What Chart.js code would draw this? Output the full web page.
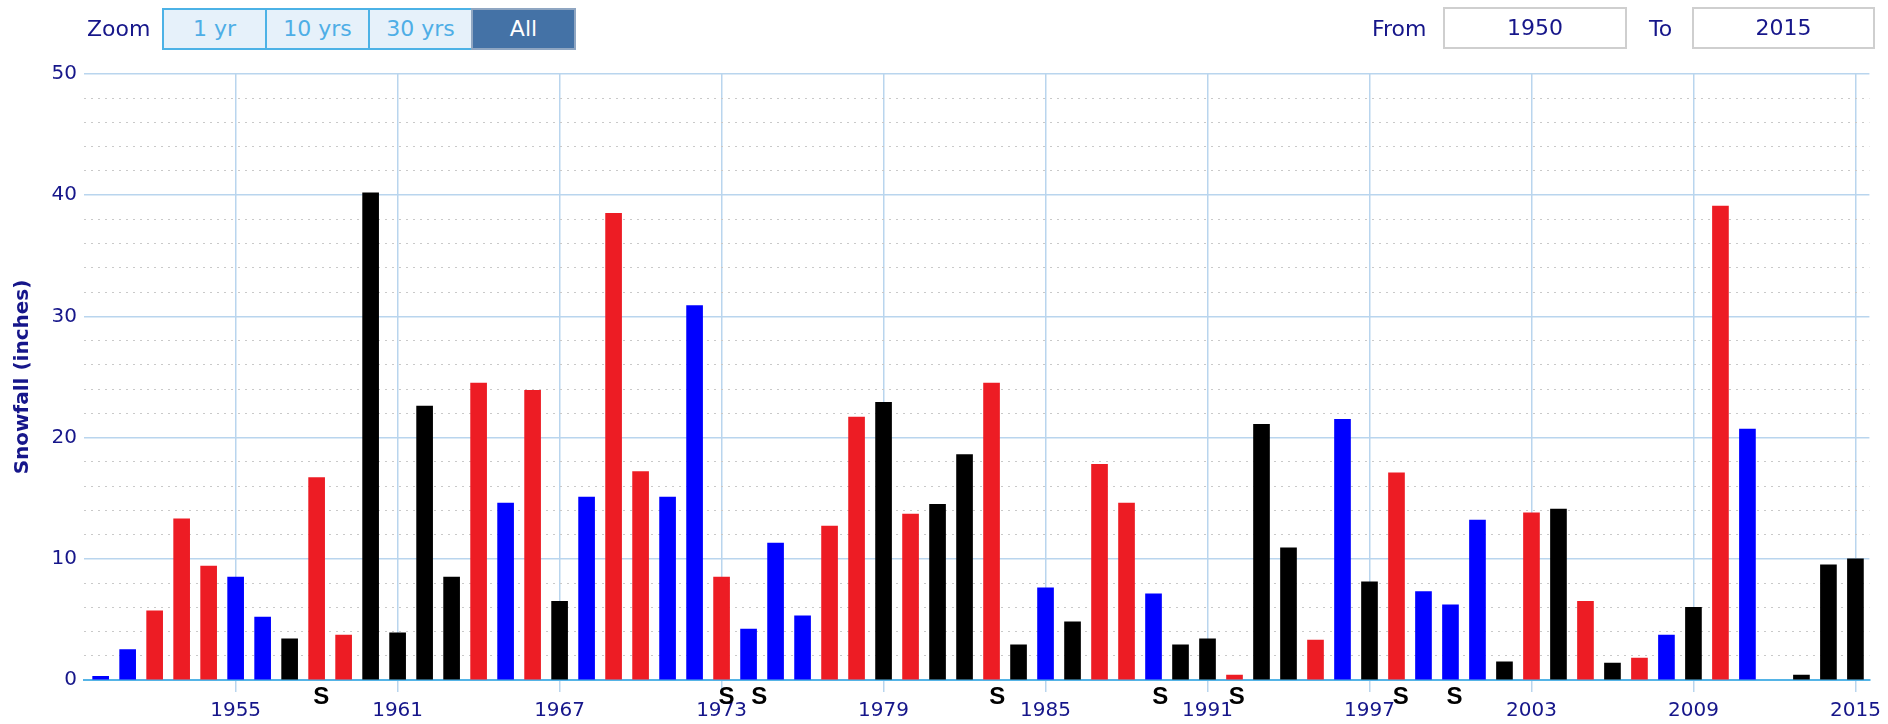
<!DOCTYPE html>
<html>
<head>
<meta charset="utf-8">
<script src="https://cdn.jsdelivr.net/npm/chart.js@4"></script>
<style>
  body { margin: 0; background: #fff; font-family: "DejaVu Sans", sans-serif; }
  #wrap { position: relative; width: 1888px; height: 724px; }
  #myChart { position: absolute; left: 0; top: 0; }
  .lbl { position: absolute; top: 8px; height: 42px; line-height: 42px; font-size: 22px; color: #16168a; }
  .btns { position: absolute; left: 162px; top: 8px; height: 42px; display: flex; }
  .btn { width: 105px; height: 42px; box-sizing: border-box; border: 2px solid #4cb2e6; margin-left: -2px;
         background: #e6f1fa; color: #4eaee6; font-size: 22px; line-height: 38px; text-align: center; }
  .btn:first-child { margin-left: 0; }
  .btn.on { background: #4472a6; color: #fff; border-color: #8fa6c2; }
  .box { position: absolute; top: 7px; height: 42px; box-sizing: border-box; border: 2px solid #cfcfcf;
         font-size: 22px; line-height: 38px; text-align: center; color: #16168a; }
</style>
</head>
<body>
<div id="wrap">
  <canvas id="myChart" width="1888" height="724"></canvas>
  <div class="lbl" style="left:87px">Zoom</div>
  <div class="btns">
    <div class="btn">1 yr</div>
    <div class="btn">10 yrs</div>
    <div class="btn">30 yrs</div>
    <div class="btn on">All</div>
  </div>
  <div class="lbl" style="left:1372px">From</div>
  <div class="box" style="left:1443px;width:184px">1950</div>
  <div class="lbl" style="left:1649px">To</div>
  <div class="box" style="left:1692px;width:183px">2015</div>
</div>
<script>
// winter seasons (year the season starts)
const years = [
  1950, 1951, 1952, 1953, 1954, 1955, 1956, 1957, 1958, 1959,
  1960, 1961, 1962, 1963, 1964, 1965, 1966, 1967, 1968, 1969,
  1970, 1971, 1972, 1973, 1974, 1975, 1976, 1977, 1978, 1979,
  1980, 1981, 1982, 1983, 1984, 1985, 1986, 1987, 1988, 1989,
  1990, 1991, 1992, 1993, 1994, 1995, 1996, 1997, 1998, 1999,
  2000, 2001, 2002, 2003, 2004, 2005, 2006, 2007, 2008, 2009,
  2010, 2011, 2012, 2013, 2014, 2015
];

// snowfall in inches (2012 has no bar)
const snowfall = [
  0.3, 2.5, 5.7, 13.3, 9.4, 8.5, 5.2, 3.4, 16.7, 3.7,
  40.2, 3.9, 22.6, 8.5, 24.5, 14.6, 23.9, 6.5, 15.1, 38.5,
  17.2, 15.1, 30.9, 8.5, 4.2, 11.3, 5.3, 12.7, 21.7, 22.9,
  13.7, 14.5, 18.6, 24.5, 2.9, 7.6, 4.8, 17.8, 14.6, 7.1,
  2.9, 3.4, 0.4, 21.1, 10.9, 3.3, 21.5, 8.1, 17.1, 7.3,
  6.2, 13.2, 1.5, 13.8, 14.1, 6.5, 1.4, 1.8, 3.7, 6.0,
  39.1, 20.7, null, 0.4, 9.5, 10.0
];

// ENSO phase of each winter
const phase = [
  'nina', 'nina', 'nino', 'nino', 'nino', 'nina', 'nina', 'neutral', 'nino', 'nino',
  'neutral', 'neutral', 'neutral', 'neutral', 'nino', 'nina', 'nino', 'neutral', 'nina', 'nino',
  'nino', 'nina', 'nina', 'nino', 'nina', 'nina', 'nina', 'nino', 'nino', 'neutral',
  'nino', 'neutral', 'neutral', 'nino', 'neutral', 'nina', 'neutral', 'nino', 'nino', 'nina',
  'neutral', 'neutral', 'nino', 'neutral', 'neutral', 'nino', 'nina', 'neutral', 'nino', 'nina',
  'nina', 'nina', 'neutral', 'nino', 'neutral', 'nino', 'neutral', 'nino', 'nina', 'neutral',
  'nino', 'nina', 'neutral', 'neutral', 'neutral', 'neutral'
];

// storm flags ("S") - dates as decimal years
const stormDates = [1958.17, 1973.18, 1974.40, 1983.21, 1989.25, 1992.08, 1998.16, 2000.15];

// labelled x ticks
const tickYears = [1955, 1961, 1967, 1973, 1979, 1985, 1991, 1997, 2003, 2009, 2015];

const phaseColors = { nino: '#ed1c24', nina: '#0000ff', neutral: '#000000' };
const navy = '#16168a';
const gridBlue = '#b9d5ee';

// draws the S flags under the axis
const stormFlags = {
  id: 'stormFlags',
  afterDraw(chart) {
    const ctx = chart.ctx;
    const xs = chart.scales.x;
    ctx.save();
    ctx.font = 'bold 24px "Liberation Sans", Arial, sans-serif';
    ctx.fillStyle = '#000';
    ctx.textAlign = 'center';
    ctx.textBaseline = 'middle';
    stormDates.forEach(d => {
      ctx.fillText('S', xs.getPixelForValue(d), chart.chartArea.bottom + 17);
    });
    ctx.restore();
  }
};

const chartData = {
  datasets: [{
    label: 'Snowfall',
    data: years.map((yr, i) => ({ x: yr, y: snowfall[i] })),
    backgroundColor: phase.map(p => phaseColors[p]),
    borderWidth: 0,
    barThickness: 16
  }]
};

const config = {
  type: 'bar',
  data: chartData,
  plugins: [stormFlags],
  options: {
    responsive: false,
    animation: false,
    devicePixelRatio: 1,
    layout: { padding: { top: 74, right: 15, left: 0, bottom: 0 } },
    plugins: { legend: { display: false }, tooltip: { enabled: false } },
    scales: {
      x: {
        type: 'linear',
        offset: false,
        min: 1949.383,
        max: 2015.518,
        afterFit: scale => { scale.height = 44; },
        afterBuildTicks: scale => { scale.ticks = tickYears.map(v => ({ value: v })); },
        grid: { offset: false, color: gridBlue, lineWidth: 1.5, tickLength: 12, tickColor: gridBlue, tickWidth: 1.5 },
        border: { color: '#55b4e6', width: 2 },
        ticks: {
          autoSkip: false, maxRotation: 0, padding: 7,
          color: navy, font: { family: 'DejaVu Sans', size: 20 },
          callback: v => String(v)
        }
      },
      y: {
        min: 0,
        max: 50,
        afterFit: scale => { scale.width = 84; },
        grid: {
          drawTicks: false,
          color: c => (c.tick && c.tick.value % 10 === 0) ? gridBlue : '#c9c9c9',
          lineWidth: c => (c.tick && c.tick.value % 10 === 0) ? 1.5 : 1
        },
        border: {
          display: false,
          dash: c => (c.tick && c.tick.value % 10 === 0) ? [] : [2, 5]
        },
        ticks: {
          stepSize: 2, autoSkip: false, padding: 7,
          color: navy, font: { family: 'DejaVu Sans', size: 20 },
          callback: v => (v % 10 === 0 ? v : '')
        },
        title: {
          display: true,
          text: 'Snowfall (inches)',
          color: navy,
          padding: { top: 11, bottom: 0 },
          font: { family: 'DejaVu Sans', size: 20, weight: 'bold' }
        }
      }
    }
  }
};

const myChart = new Chart(document.getElementById('myChart'), config);
</script>
</body>
</html>
